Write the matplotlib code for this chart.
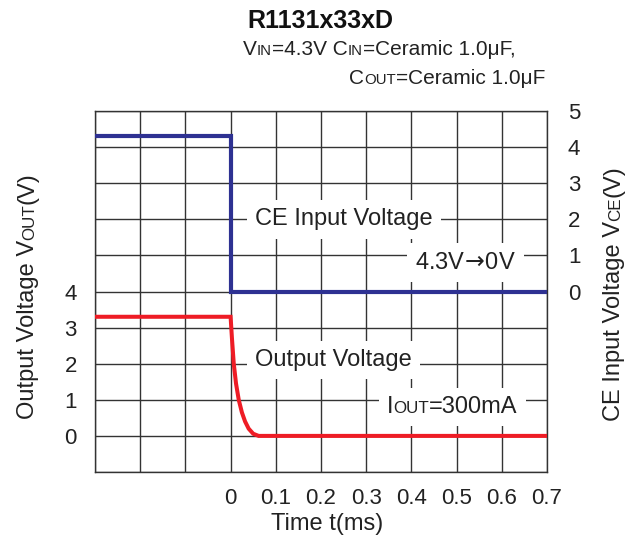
import matplotlib
matplotlib.use('Agg')
import matplotlib.pyplot as plt
from matplotlib.patches import Rectangle

plt.rcParams['font.family'] = ['Liberation Sans', 'DejaVu Sans']

# Datos: tensión de entrada CE (eje derecho) y tensión de salida (eje izquierdo)
ce_t = [-0.3, 0.0, 0.0, 0.7]
ce_v = [4.3, 4.3, 0.0, 0.0]

out_t = [-0.3, 0.0, 0.003, 0.007, 0.012, 0.018, 0.025, 0.032, 0.04, 0.05, 0.062, 0.7]
out_v = [3.3, 3.3, 2.7, 2.0, 1.45, 1.0, 0.65, 0.4, 0.2, 0.06, 0.0, 0.0]

x_ticks = [0, 0.1, 0.2, 0.3, 0.4, 0.5, 0.6, 0.7]
x_labels = ['0', '0.1', '0.2', '0.3', '0.4', '0.5', '0.6', '0.7']
left_ticks = [0, 1, 2, 3, 4]
right_ticks = [0, 1, 2, 3, 4, 5]

W, H = 640, 546
FS = 17
SC = 0.72 * FS  # "versalitas" de los subíndices

fig = plt.figure(figsize=(W / 100, H / 100), dpi=100)


def fx(px):
    return px / W


def fy(py):
    return 1 - py / H


ax = fig.add_axes([fx(95), fy(472), (547 - 95) / W, (472 - 111) / H])
ax2 = ax.twinx()

# Rejilla
ax.set_xlim(-0.3, 0.7)
ax.set_ylim(-1, 9)
ax.set_xticks([x / 10 for x in range(-3, 8)], minor=False)
ax.set_xticklabels(['', '', ''] + x_labels)
ax.set_yticks(range(-1, 10))
ax.set_yticklabels([str(v) if v in left_ticks else '' for v in range(-1, 10)])
ax.grid(True, color='#333333', lw=1.0)
ax.tick_params(length=0, labelsize=16, colors='#222222')
ax.tick_params(axis='x', pad=11.5)
ax.tick_params(axis='y', pad=13)
for s in ax.spines.values():
    s.set_color('#333333')
    s.set_linewidth(1.0)

ax2.set_ylim(-5, 5)
ax2.set_yticks(right_ticks)
ax2.tick_params(length=0, labelsize=16, colors='#222222', pad=15)
for s in ax2.spines.values():
    s.set_visible(False)

ax.plot(out_t, out_v, color='#ee1c25', lw=2.9, zorder=4, solid_joinstyle='miter')
ax2.plot(ce_t, ce_v, color='#2e3192', lw=3.0, zorder=4, solid_joinstyle='miter')

box = dict(fc='white', ec='none', pad=6)
ax2.text(0.25, 2.0, 'CE Input Voltage', fontsize=FS, ha='center', va='center',
         color='#222222', bbox=box, zorder=3)
ax2.text(0.519, 0.8, r'4.3V$\!\rightarrow\!$0V', fontsize=FS, ha='center', va='center',
         color='#222222', bbox=box, zorder=3)
ax.text(0.228, 2.1, 'Output Voltage', fontsize=FS, ha='center', va='center',
        color='#222222', bbox=box, zorder=3)

renderer = fig.canvas.get_renderer()


def rich(x, y, parts, ha='left', rot=0, **kw):
    # trozos de texto con distinto tamaño, x/y en píxeles de la imagen
    ws = []
    for s, fs in parts:
        t = fig.text(0, 0, s, fontsize=fs, **kw)
        ws.append(t.get_window_extent(renderer).width)
        t.remove()
    total = sum(ws)
    off = {'left': 0, 'center': -total / 2, 'right': -total}[ha]
    arts = []
    for (s, fs), w in zip(parts, ws):
        if rot == 0:
            px, py = x + off, y
        else:
            px, py = x, y - off
        arts.append(fig.text(fx(px), fy(py), s, fontsize=fs, rotation=rot,
                             rotation_mode='anchor', ha='left', va='baseline',
                             color='#222222', zorder=5, **kw))
        off += w
    return arts


# Título y condiciones
fig.text(fx(320), fy(28), 'R1131x33xD', fontsize=18, fontweight='bold',
         ha='center', va='baseline', color='#111111')
rich(243, 55, [('V', 15), ('IN', 0.72 * 15), ('=4.3V C', 15), ('IN', 0.72 * 15),
               ('=Ceramic 1.0\u03bcF,', 15)])
rich(545, 84, [('C', 15), ('OUT', 0.72 * 15), ('=Ceramic 1.0\u03bcF', 15)], ha='right')

# Etiquetas de ejes
rich(34, 296, [('Output Voltage V', FS), ('OUT', SC), ('(V)', FS)], ha='center', rot=90)
rich(620, 293, [('CE Input Voltage V', FS), ('CE', SC), ('(V)', FS)], ha='center', rot=90)
fig.text(fx(327), fy(530), 'Time t(ms)', fontsize=FS, ha='center', va='baseline',
         color='#222222')

# Etiqueta de corriente con fondo blanco
arts = rich(387, 413, [('I', FS), ('OUT', SC), ('=300mA', FS)])
fig.canvas.draw()
ext = [a.get_window_extent(renderer) for a in arts]
x0 = min(e.x0 for e in ext) - 8
x1 = max(e.x1 for e in ext) + 8
y0 = min(e.y0 for e in ext) - 8
y1 = max(e.y1 for e in ext) + 8
fig.patches.append(Rectangle((x0 / W, y0 / H), (x1 - x0) / W, (y1 - y0) / H,
                             transform=fig.transFigure, fc='white', ec='none', zorder=1))

fig.savefig('out.png', dpi=100)
